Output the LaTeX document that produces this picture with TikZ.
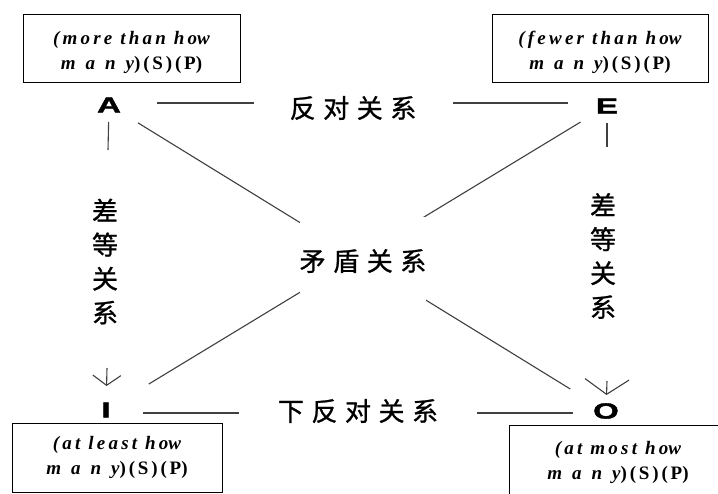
\documentclass[tikz,border=0pt]{standalone}
\usepackage{fontspec}
\usepackage{graphicx}
\setmainfont{Liberation Serif}
\newfontfamily\cjk{Noto Sans CJK SC}[FakeBold=1]
\newfontfamily\cjkls{Noto Sans CJK SC}[LetterSpace=29,FakeBold=1]
\newfontfamily\lettersans{Liberation Sans}[FakeBold=1.5]
\usetikzlibrary{arrows.meta}
\newcommand\ital[2]{{\bfseries\itshape\addfontfeatures{LetterSpace=#1}#2}}
\newcommand\manyword{{\bfseries\itshape m\hspace{10pt}a\hspace{10pt}n\hspace{10pt}y}}
\newcommand\sptail{{\bfseries\addfontfeatures{LetterSpace=15})(S)(P}{\bfseries)}}
\newcommand\wideletter[1]{\scalebox{1.5}[1]{#1}}
\begin{document}
\begin{tikzpicture}[x=1pt,y=-1pt,
  conn/.style={draw=black!75, line width=1.1pt},
  letter/.style={font=\lettersans\bfseries\fontsize{22}{22}\selectfont, inner sep=0pt},
  box/.style={draw=black, line width=1pt, align=center, inner sep=0pt, font=\fontsize{19}{25}\selectfont},
  relh/.style={font=\cjkls\fontsize{26}{26}\selectfont, inner sep=0pt, fill=white},
  relv/.style={font=\cjk\fontsize{26}{34}\selectfont, align=center, inner sep=0pt},
  smallbarb/.style={-{Straight Barb[length=10pt,width=28pt]}},
  bigbarb/.style={-{Straight Barb[length=15pt,width=44pt]}}
]
\useasboundingbox (0,0) rectangle (718,493);
\fill[white] (0,0) rectangle (718,493);

% boxes
\node[box, minimum width=217pt, minimum height=68pt] (bA) at (131.5,48)
  {\rule{0pt}{23pt}\ital{17}{(more than ho}\ital{0}{w}\\\manyword\sptail};
\node[box, minimum width=216pt, minimum height=68pt] (bE) at (600,48)
  {\rule{0pt}{23pt}\ital{17}{(fewer than ho}\ital{0}{w}\\\manyword\sptail};
\node[box, minimum width=210pt, minimum height=69pt] (bI) at (117,457.5)
  {\ital{17}{(at least ho}\ital{0}{w}\\\manyword\sptail};
\node[box, minimum width=218pt, minimum height=69pt] (bO) at (618,459.5)
  {\rule{0pt}{20pt}\ital{17}{(at most ho}\ital{0}{w}\\\manyword\sptail};

% corner letters
\node[letter] (A) at (109,105) {\wideletter{A}};
\node[letter] (E) at (607,106) {\wideletter{E}};
\node[letter] (I) at (106,410) {\wideletter{I}};
\node[letter] (O) at (606,411) {\wideletter{O}};

% free ends of the vertical connectors
\coordinate (la) at (108,150);
\coordinate (lb) at (107,368);
\coordinate (ra) at (607,147);
\coordinate (rb) at (607,381);

% diagonals (contradiction)
\draw[conn, shorten <=34pt, shorten >=42pt] (A.center) -- (O.center);
\draw[conn, shorten <=31pt, shorten >=50pt] (E.center) -- (I.center);
\node[relh, minimum width=126pt, minimum height=88pt] (mid) at (363,261) {矛盾关系};

% contrary (top)
\draw[conn, shorten <=48pt, shorten >=39pt] ([yshift=2pt]A.center) -- ([yshift=3pt]E.center);
\node[relh, minimum width=199pt, minimum height=30pt] (top) at (353,108) {反对关系};

% subcontrary (bottom)
\draw[conn, shorten <=37pt, shorten >=33pt] ([yshift=-3pt]I.center) -- ([yshift=-2pt]O.center);
\node[relh, minimum width=238pt, minimum height=30pt] (bot) at (358,411) {下反对关系};

% subalternation (sides)
\draw[conn, shorten <=17pt] (A.center) -- (la);
\draw[conn, smallbarb, shorten >=24pt] (lb) -- (I.center);
\node[relv] (lt) at (105,261.5) {差\\等\\关\\系};

\draw[conn, shorten <=17pt] (E.center) -- (ra);
\draw[conn, bigbarb, shorten >=16pt] (rb) -- (O.center);
\node[relv] (rt) at (603,256) {差\\等\\关\\系};
\end{tikzpicture}
\end{document}
